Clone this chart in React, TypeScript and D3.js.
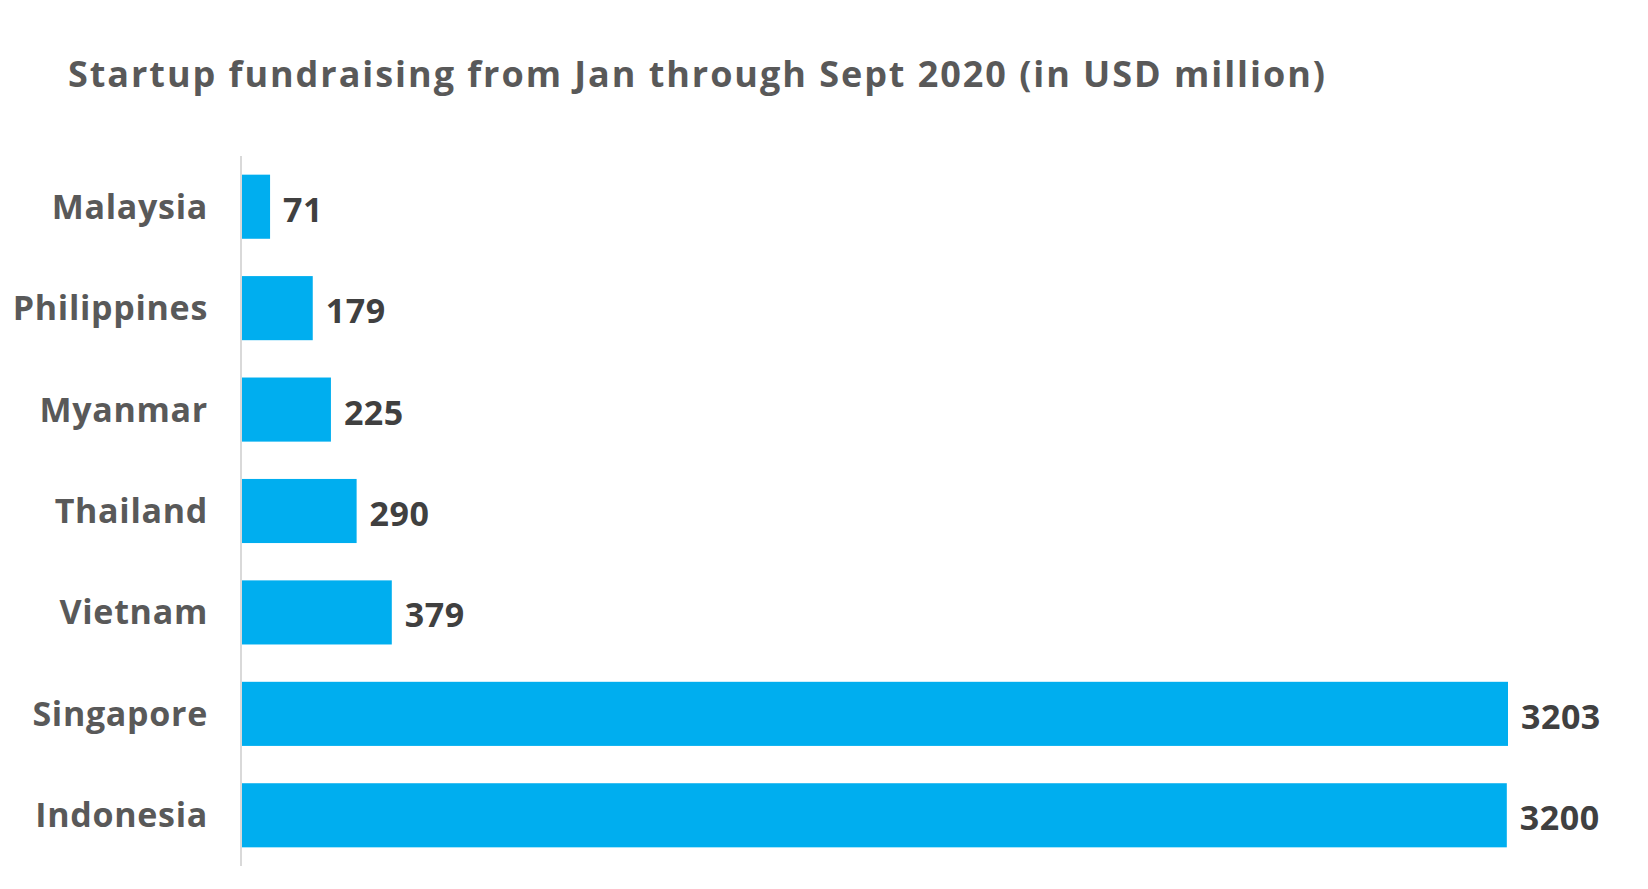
import React from 'react'
import * as d3 from 'd3'

const width = 1648
const height = 889
const barColor = '#00aeef'
const labelColor = '#595959'
const valueColor = '#404040'

const countries = ['Malaysia', 'Philippines', 'Myanmar', 'Thailand', 'Vietnam', 'Singapore', 'Indonesia']
const amounts = [71, 179, 225, 290, 379, 3203, 3200]
const title = 'Startup fundraising from Jan through Sept 2020 (in USD million)'

const x = d3.scaleLinear().domain([0, 3203]).range([242, 1508])
const y = d3
  .scaleBand()
  .domain(countries)
  .range([156, 866])
  .paddingInner(0.368)
  .paddingOuter(0.184)

const font = '"Open Sans", sans-serif'

const App = () => {
  const rows = countries.map((c, i) => ({ country: c, value: amounts[i] }))
  return (
    <svg
      width={width}
      height={height}
      style={{ position: 'absolute', left: 0, top: 0, background: '#fff' }}
    >
      <text
        x={68}
        y={87}
        fontFamily={font}
        fontWeight={700}
        fontSize={36}
        fill={labelColor}
        textLength={1257}
        lengthAdjust="spacing"
      >
        {title}
      </text>
      {rows.map(d => {
        const yy = y(d.country) as number
        const cy = yy + y.bandwidth() / 2
        return (
          <g key={d.country}>
            <rect x={x(0)} y={yy} width={x(d.value) - x(0)} height={y.bandwidth()} fill={barColor} />
            <text
              x={208}
              y={cy + 12}
              textAnchor="end"
              fontFamily={font}
              fontWeight={700}
              fontSize={34}
              letterSpacing={0.7}
              fill={labelColor}
            >
              {d.country}
            </text>
            <text
              x={x(d.value) + 13}
              y={cy + 15}
              fontFamily={font}
              fontWeight={700}
              fontSize={34}
              letterSpacing={0.5}
              fill={valueColor}
            >
              {d.value}
            </text>
          </g>
        )
      })}
      <line x1={241} x2={241} y1={y.range()[0]} y2={y.range()[1]} stroke="#d9d9d9" strokeWidth={2} />
    </svg>
  )
}

export default App
